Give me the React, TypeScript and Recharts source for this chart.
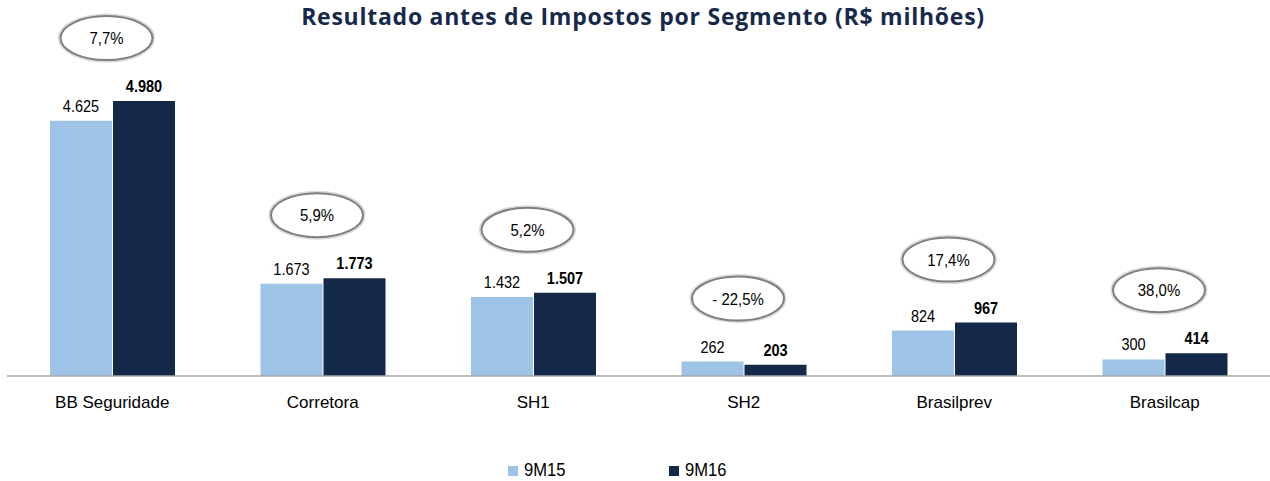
import React from 'react';
import { BarChart, Bar, XAxis, YAxis, LabelList, Legend } from 'recharts';

const categories = ['BB Seguridade', 'Corretora', 'SH1', 'SH2', 'Brasilprev', 'Brasilcap'];
const values9M15 = [4625, 1673, 1432, 262, 824, 300];
const values9M16 = [4980, 1773, 1507, 203, 967, 414];
const growthLabels = ['7,7%', '5,9%', '5,2%', '- 22,5%', '17,4%', '38,0%'];
const seriesNames = ['9M15', '9M16'];

const data = categories.map((name, i) => ({
  name,
  v15: values9M15[i],
  v16: values9M16[i],
}));

const FONT = '"Liberation Sans", Arial, sans-serif';
const LIGHT = '#9dc3e6';
const DARK = '#14284a';
const NARROW = 0.88;

const fmt = (v: number) => String(v).replace(/\B(?=(\d{3})+(?!\d))/g, '.');

const Tick = (props: any) => {
  const { x, y, payload } = props;
  return (
    <text x={x} y={y} dy={24} textAnchor="middle" fontFamily={FONT} fontSize={17} fill="#000">
      {payload.value}
    </text>
  );
};

const NarrowText = ({ x, y, children, bold, size }: any) => (
  <g transform={`translate(${x},${y}) scale(${NARROW},1)`}>
    <text x={0} y={0} textAnchor="middle" fontFamily={FONT} fontSize={size || 16.5} fill="#000" fontWeight={bold ? 700 : 400}>
      {children}
    </text>
  </g>
);

const makeValueLabel = (bold: boolean) => (props: any) => {
  const { x, y, width, value } = props;
  if (x == null || value == null) return null;
  return (
    <NarrowText x={x + width / 2} y={y - 9} bold={bold}>
      {fmt(Number(value))}
    </NarrowText>
  );
};

const EllipseLabel = (props: any) => {
  const { x, y, height, index } = props;
  if (x == null || index == null) return null;
  const v16 = values9M16[index];
  const v15 = values9M15[index];
  const ppu = height / v16;
  const base = y + height;
  const top = base - Math.max(v15, v16) * ppu;
  const cx = x - 0.5 - 6;
  const cy = top - 63;
  return (
    <g>
      <ellipse cx={cx} cy={cy} rx={46} ry={22} fill="#fff" stroke="#dadada" strokeWidth={5} />
      <ellipse cx={cx} cy={cy} rx={46} ry={22} fill="#fff" stroke="#7f7f7f" strokeWidth={2} />
      <NarrowText x={cx} y={cy + 6} size={17}>{growthLabels[index]}</NarrowText>
    </g>
  );
};

const LegendContent = () => (
  <div style={{ display: 'flex', fontFamily: FONT, fontSize: 18, color: '#000' }}>
    {seriesNames.map((n, i) => (
      <div key={n} style={{ display: 'flex', alignItems: 'center', width: 161 }}>
        <span style={{ display: 'inline-block', width: 10, height: 10, background: i === 0 ? LIGHT : DARK, marginRight: 6 }} />
        <span style={{ display: 'inline-block', transform: 'scaleX(0.92)', transformOrigin: 'left center' }}>{n}</span>
      </div>
    ))}
  </div>
);

export default function App() {
  return (
    <div style={{ position: 'absolute', left: 0, top: 0, width: 1270, height: 481, background: '#fff' }}>
      <div
        style={{
          position: 'absolute',
          left: 0,
          top: 0,
          width: 1286,
          textAlign: 'center',
          fontFamily: '"Open Sans", sans-serif',
          fontWeight: 700,
          fontSize: 23,
          letterSpacing: 0.75,
          color: '#17294b',
          zIndex: 2,
        }}
      >
        Resultado antes de Impostos por Segmento (R$ milhões)
      </div>
      <BarChart
        width={1270}
        height={481}
        data={data}
        margin={{ top: 100, right: 0, bottom: 75, left: 7 }}
        barGap={1}
        barSize={62}
      >
        <XAxis
          dataKey="name"
          axisLine={{ stroke: '#a6a6a6', strokeWidth: 1.5 }}
          tickLine={false}
          tick={<Tick />}
          interval={0}
          height={30}
        />
        <YAxis hide domain={[0, 5000]} />
        <Legend
          layout="horizontal"
          verticalAlign="middle"
          align="center"
          content={<LegendContent />}
          wrapperStyle={{ top: 460, left: 508, width: 340, height: 24 }}
        />
        <Bar dataKey="v15" name="9M15" fill={LIGHT} isAnimationActive={false}>
          <LabelList dataKey="v15" content={makeValueLabel(false)} />
        </Bar>
        <Bar dataKey="v16" name="9M16" fill={DARK} isAnimationActive={false}>
          <LabelList dataKey="v16" content={makeValueLabel(true)} />
          <LabelList dataKey="v16" content={<EllipseLabel />} />
        </Bar>
      </BarChart>
    </div>
  );
}
